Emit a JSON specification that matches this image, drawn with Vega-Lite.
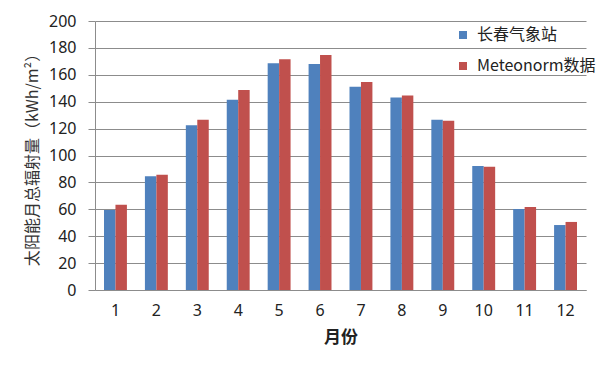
{
  "$schema": "https://vega.github.io/schema/vega-lite/v6.json",
  "width": 491,
  "height": 269,
  "autosize": {"type": "none"},
  "padding": {"left": 95, "top": 21, "right": 24, "bottom": 75},
  "background": "white",
  "data": {
    "values": [
      {"month": 1, "series": "长春气象站", "value": 59.5},
      {"month": 1, "series": "Meteonorm数据", "value": 63.4},
      {"month": 2, "series": "长春气象站", "value": 84.5},
      {"month": 2, "series": "Meteonorm数据", "value": 85.7},
      {"month": 3, "series": "长春气象站", "value": 122.4},
      {"month": 3, "series": "Meteonorm数据", "value": 126.6},
      {"month": 4, "series": "长春气象站", "value": 141.5},
      {"month": 4, "series": "Meteonorm数据", "value": 148.7},
      {"month": 5, "series": "长春气象站", "value": 168.5},
      {"month": 5, "series": "Meteonorm数据", "value": 171.5},
      {"month": 6, "series": "长春气象站", "value": 168},
      {"month": 6, "series": "Meteonorm数据", "value": 174.7},
      {"month": 7, "series": "长春气象站", "value": 151.2},
      {"month": 7, "series": "Meteonorm数据", "value": 154.6},
      {"month": 8, "series": "长春气象站", "value": 143.2},
      {"month": 8, "series": "Meteonorm数据", "value": 144.7},
      {"month": 9, "series": "长春气象站", "value": 126.6},
      {"month": 9, "series": "Meteonorm数据", "value": 125.9},
      {"month": 10, "series": "长春气象站", "value": 92.2},
      {"month": 10, "series": "Meteonorm数据", "value": 91.7},
      {"month": 11, "series": "长春气象站", "value": 60.2},
      {"month": 11, "series": "Meteonorm数据", "value": 61.7},
      {"month": 12, "series": "长春气象站", "value": 48.3},
      {"month": 12, "series": "Meteonorm数据", "value": 50.6}
    ]
  },
  "mark": {"type": "bar"},
  "encoding": {
    "x": {
      "field": "month",
      "type": "ordinal",
      "scale": {"paddingInner": 0.44, "paddingOuter": 0.22},
      "axis": {
        "title": "月份",
        "labelAngle": 0,
        "ticks": false,
        "domainColor": "#8c8c8c",
        "labelFont": "Noto Sans",
        "labelFontSize": 16,
        "labelColor": "#222222",
        "labelPadding": 12,
        "titleFont": "Noto Sans CJK SC",
        "titleFontSize": 17,
        "titleFontWeight": "bold",
        "titleColor": "#222222",
        "titlePadding": 11
      }
    },
    "xOffset": {"field": "series", "type": "nominal", "sort": ["长春气象站", "Meteonorm数据"]},
    "y": {
      "field": "value",
      "type": "quantitative",
      "scale": {"domain": [0, 200]},
      "axis": {
        "title": "太阳能月总辐射量（kWh/m²）",
        "values": [0, 20, 40, 60, 80, 100, 120, 140, 160, 180, 200],
        "grid": true,
        "gridColor": "#8c8c8c",
        "domainColor": "#8c8c8c",
        "tickColor": "#8c8c8c",
        "tickSize": 7,
        "labelFont": "Noto Sans",
        "labelFontSize": 16,
        "labelColor": "#222222",
        "labelPadding": 12,
        "titleFont": "Noto Sans CJK SC",
        "titleFontSize": 16,
        "titleFontWeight": "normal",
        "titleColor": "#333333",
        "titlePadding": 8
      }
    },
    "color": {
      "field": "series",
      "type": "nominal",
      "scale": {"domain": ["长春气象站", "Meteonorm数据"], "range": ["#4F81BD", "#C0504D"]},
      "legend": {
        "title": null,
        "orient": "none",
        "legendX": 360,
        "legendY": 6,
        "symbolType": "square",
        "symbolSize": 64,
        "symbolStrokeWidth": 0,
        "symbolOpacity": 1,
        "labelFont": "Noto Sans CJK SC",
        "labelFontSize": 16,
        "labelColor": "#222222",
        "labelOffset": 6,
        "rowPadding": 15
      }
    }
  },
  "config": {"view": {"stroke": null}}
}
